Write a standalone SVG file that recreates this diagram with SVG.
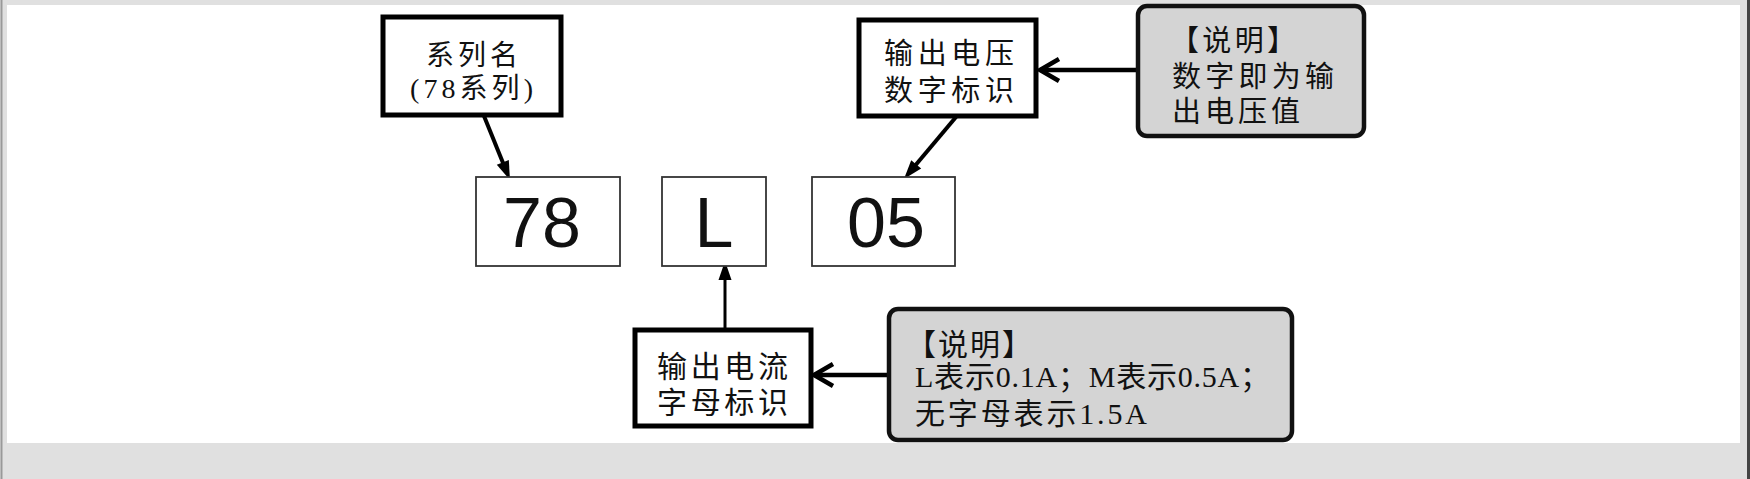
<svg xmlns="http://www.w3.org/2000/svg" width="1750" height="479" viewBox="0 0 1750 479">
<style>
.cn{font-family:"Liberation Serif","Noto Sans CJK SC",serif;fill:#111;}
.dg{font-family:"Liberation Sans",Arial,sans-serif;font-size:70px;fill:#111;text-anchor:middle;}
.nb{fill:#fff;stroke:#000;stroke-width:5;}
.db{fill:#fff;stroke:#333;stroke-width:1.8;}
.gb{fill:#d4d4d4;stroke:#111;stroke-width:4.5;}
.ln{fill:none;stroke:#000;}
</style>
<defs>
<marker id="fa" markerUnits="userSpaceOnUse" markerWidth="30" markerHeight="30" viewBox="-15 -15 30 30" refX="0" refY="0" orient="auto" overflow="visible">
<path d="M-9,-6.5 L10,0 L-9,6.5 Z" fill="#000"/>
</marker>
<marker id="oa" markerUnits="userSpaceOnUse" markerWidth="40" markerHeight="40" viewBox="-25 -20 40 40" refX="0" refY="0" orient="auto" overflow="visible">
<path d="M-19,-11 L0,0 L-19,11" fill="none" stroke="#000" stroke-width="4.5"/>
</marker>
</defs>
<rect x="0" y="0" width="1750" height="479" fill="#e0e0e0"/>
<rect x="7" y="5" width="1733" height="438" fill="#fff"/>
<line x1="1.5" y1="0" x2="1.5" y2="479" stroke="#999" stroke-width="2"/>
<line x1="1748.5" y1="0" x2="1748.5" y2="479" stroke="#444" stroke-width="3"/>

<g id="connectors">
<path class="ln" stroke-width="4" d="M484,116 L506.2,170.7" marker-end="url(#fa)"/>
<path class="ln" stroke-width="4" d="M956,117 L910.4,171.3" marker-end="url(#fa)"/>
<path class="ln" stroke-width="3" d="M725,329 L725,271" marker-end="url(#fa)"/>
<path class="ln" stroke-width="4.5" d="M1138,70 L1040,70" marker-end="url(#oa)"/>
<path class="ln" stroke-width="4.5" d="M889,375 L814,375" marker-end="url(#oa)"/>
</g>

<g id="series">
<rect class="nb" x="383" y="17" width="178" height="98"/>
<text class="cn" x="426" y="65" font-size="28" textLength="92" lengthAdjust="spacing">系列名</text>
<text class="cn" x="410" y="98" font-size="28" textLength="123" lengthAdjust="spacing">(78系列)</text>
</g>

<g id="voltage-label">
<rect class="nb" x="859" y="20" width="177" height="96"/>
<text class="cn" x="884" y="64" font-size="29" textLength="130" lengthAdjust="spacing">输出电压</text>
<text class="cn" x="884" y="101" font-size="29" textLength="130" lengthAdjust="spacing">数字标识</text>
</g>

<g id="voltage-note">
<rect class="gb" x="1138" y="6" width="226" height="130" rx="9"/>
<text class="cn" x="1170" y="51" font-size="29" textLength="126" lengthAdjust="spacing">【说明】</text>
<text class="cn" x="1172" y="87" font-size="29" textLength="162" lengthAdjust="spacing">数字即为输</text>
<text class="cn" x="1172" y="122" font-size="29" textLength="128" lengthAdjust="spacing">出电压值</text>
</g>

<g id="d78">
<rect class="db" x="476" y="177" width="144" height="89"/>
<text class="dg" x="542" y="247">78</text>
</g>

<g id="dL">
<rect class="db" x="662" y="177" width="104" height="89"/>
<text class="dg" x="714" y="247">L</text>
</g>

<g id="d05">
<rect class="db" x="812" y="177" width="143" height="89"/>
<text class="dg" x="886" y="247">05</text>
</g>

<g id="current-label">
<rect class="nb" x="635" y="330" width="176" height="96"/>
<text class="cn" x="657" y="377" font-size="30" textLength="131" lengthAdjust="spacing">输出电流</text>
<text class="cn" x="657" y="413" font-size="30" textLength="131" lengthAdjust="spacing">字母标识</text>
</g>

<g id="current-note">
<rect class="gb" x="889" y="309" width="403" height="131" rx="9"/>
<text class="cn" x="906" y="355" font-size="30" textLength="126" lengthAdjust="spacing">【说明】</text>
<text class="cn" x="915" y="387" font-size="30" textLength="355" lengthAdjust="spacing">L表示0.1A；M表示0.5A；</text>
<text class="cn" x="915" y="424" font-size="30" textLength="232" lengthAdjust="spacing">无字母表示1.5A</text>
</g>
</svg>
